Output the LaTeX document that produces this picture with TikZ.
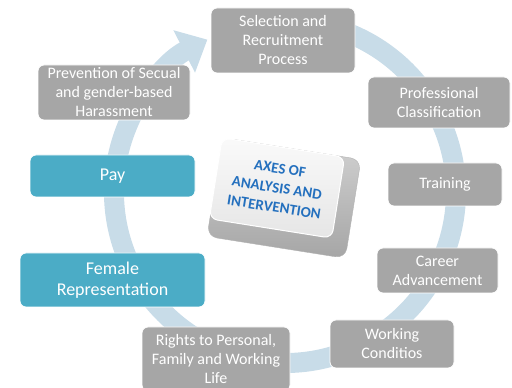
\documentclass[tikz,border=0pt]{standalone}
\usepackage{fontspec}
\setmainfont{Carlito}
\usetikzlibrary{arrows.meta}
\definecolor{axisgray}{RGB}{166,166,166}
\definecolor{axisblue}{RGB}{75,172,198}
\definecolor{ringblue}{RGB}{200,220,232}
\definecolor{keyblue}{RGB}{36,112,190}

\begin{document}
\begin{tikzpicture}
    [ x = 1pt, y = 1pt
    , axis/.style =
      { draw = white, line width = .8pt, rounded corners = 6pt
      , fill = axisgray, text = white, align = center
      , font = \fontsize{16}{19}\selectfont, inner sep = 0pt }
    , hot/.style =
      { fill = axisblue, font = \fontsize{18}{21}\selectfont }
    , ring/.style =
      { ringblue, line width = 20pt, -{Triangle[width=46pt, length=26pt]} }
    , keybase/.style =
      { rounded corners = 10pt, top color = gray!35, bottom color = gray!70
      , draw = gray!60 }
    , keyface/.style =
      { rounded corners = 8pt, top color = gray!4, bottom color = gray!20
      , draw = white, line width = 1pt, align = center, text = keyblue
      , font = \fontsize{15}{19.5}\selectfont\bfseries }
    ]
    \clip (0,0) rectangle (512,388);

    % the cycle behind the boxes
    \coordinate (hub) at (285,196);
    \draw [ring] (hub) ++(75:171) arc [start angle=75, end angle=-243, radius=171pt];

    \node [axis, minimum width=144pt, minimum height=65pt] (select) at (283,347.5)
      {Selection and\\Recruitment\\Process};
    \node [axis, minimum width=142pt, minimum height=51pt] (classify) at (439,285.5)
      {Professional\\Classification};
    \node [axis, minimum width=114pt, minimum height=43pt] (train) at (445,203.5)
      {Training};
    \node [axis, minimum width=121pt, minimum height=45pt] (career) at (437.5,117.5)
      {Career\\Advancement};
    \node [axis, minimum width=124pt, minimum height=48pt] (work) at (392,44)
      {Working\\Conditios};
    \node [axis, minimum width=148pt, minimum height=64pt] (rights) at (216,29)
      {Rights to Personal,\\Family and Working\\Life};
    \node [axis, hot, minimum width=185pt, minimum height=54pt] (female) at (112.5,108)
      {Female\\Representation};
    \node [axis, hot, minimum width=165pt, minimum height=42pt] (pay) at (112.5,212)
      {Pay};
    \node [axis, minimum width=152pt, minimum height=55pt] (harass) at (114,295.5)
      {Prevention of Secual\\and gender-based\\Harassment};

    % the key in the middle
    \node [keybase, rotate=-9, minimum width=140pt, minimum height=100pt] (keycap) at (284,190) {};
    \node [keyface, rotate=-9, minimum width=124pt, minimum height=82pt] (axes) at (277,200)
      {AXES OF\\ANALYSIS AND\\INTERVENTION};
\end{tikzpicture}
\end{document}
